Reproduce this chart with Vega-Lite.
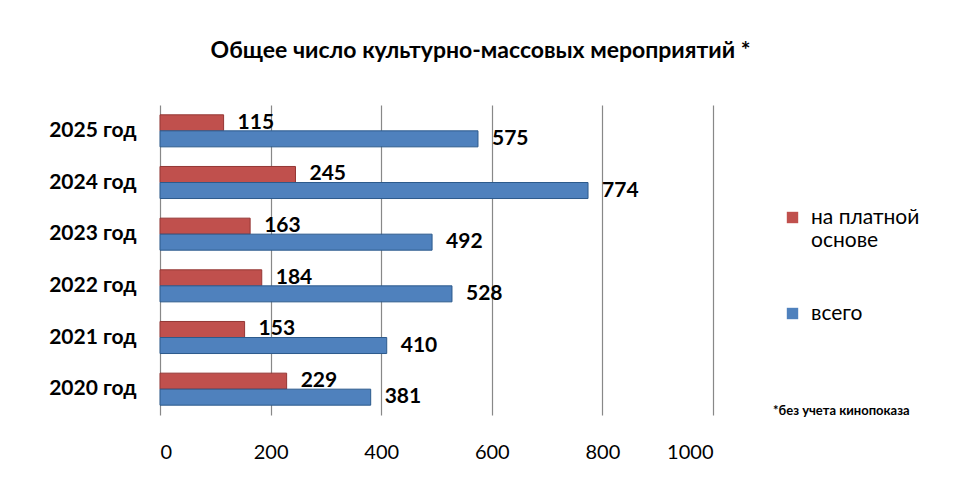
{
  "$schema": "https://vega.github.io/schema/vega-lite/v6.json",
  "autosize": "none",
  "width": 553,
  "height": 310,
  "padding": {"left": 160, "top": 105, "right": 247, "bottom": 65},
  "background": "white",
  "title": {
    "text": "Общее число культурно-массовых мероприятий *",
    "font": "Lato",
    "fontSize": 23,
    "fontWeight": "bold",
    "color": "black",
    "anchor": "middle",
    "dx": 44,
    "offset": 42
  },
  "data": {
    "values": [
      {"year": "2020 год", "series": "на платной основе", "value": 229},
      {"year": "2020 год", "series": "всего", "value": 381},
      {"year": "2021 год", "series": "на платной основе", "value": 153},
      {"year": "2021 год", "series": "всего", "value": 410},
      {"year": "2022 год", "series": "на платной основе", "value": 184},
      {"year": "2022 год", "series": "всего", "value": 528},
      {"year": "2023 год", "series": "на платной основе", "value": 163},
      {"year": "2023 год", "series": "всего", "value": 492},
      {"year": "2024 год", "series": "на платной основе", "value": 245},
      {"year": "2024 год", "series": "всего", "value": 774},
      {"year": "2025 год", "series": "на платной основе", "value": 115},
      {"year": "2025 год", "series": "всего", "value": 575}
    ]
  },
  "encoding": {
    "y": {
      "field": "year",
      "type": "nominal",
      "sort": ["2025 год", "2024 год", "2023 год", "2022 год", "2021 год", "2020 год"],
      "scale": {"paddingInner": 0.38, "paddingOuter": 0.19},
      "title": null,
      "axis": {
        "domain": false,
        "ticks": false,
        "labelFont": "Lato",
        "labelFontSize": 21,
        "labelFontWeight": "bold",
        "labelColor": "black",
        "labelPadding": 24
      }
    },
    "yOffset": {
      "field": "series",
      "type": "nominal",
      "sort": ["на платной основе", "всего"]
    },
    "x": {
      "field": "value",
      "type": "quantitative",
      "scale": {"domain": [0, 1000]},
      "title": null,
      "axis": {
        "values": [0, 200, 400, 600, 800, 1000],
        "format": "d",
        "domain": false,
        "ticks": false,
        "grid": true,
        "gridColor": "#888888",
        "gridWidth": 1.2,
        "labelFont": "Lato",
        "labelFontSize": 20,
        "labelColor": "black",
        "labelPadding": 27
      }
    }
  },
  "layer": [
    {
      "mark": {"type": "bar", "strokeWidth": 1},
      "encoding": {
        "color": {
          "field": "series",
          "type": "nominal",
          "scale": {"domain": ["на платной основе", "всего"], "range": ["#C0504D", "#4F81BD"]},
          "legend": {
            "title": null,
            "orient": "none",
            "legendX": 622,
            "legendY": 102,
            "symbolType": "square",
            "symbolSize": 130,
            "symbolStrokeWidth": 0,
            "labelFont": "Lato",
            "labelFontSize": 21,
            "labelColor": "black",
            "labelLimit": 220,
            "labelOffset": 8,
            "rowPadding": 51,
            "labelExpr": "datum.label == 'на платной основе' ? ['на платной', 'основе'] : datum.label"
          }
        },
        "stroke": {
          "field": "series",
          "type": "nominal",
          "scale": {"domain": ["на платной основе", "всего"], "range": ["#943634", "#2C5A8C"]},
          "legend": null
        }
      }
    },
    {
      "mark": {
        "type": "text",
        "align": "left",
        "baseline": "middle",
        "dx": 14,
        "font": "Lato",
        "fontSize": 21,
        "fontWeight": "bold",
        "color": "black"
      },
      "encoding": {
        "text": {"field": "value", "type": "quantitative"}
      }
    },
    {
      "data": {"values": [{"note": "*без учета кинопоказа", "year": "2020 год", "pos": 1000}]},
      "mark": {
        "type": "text",
        "align": "left",
        "baseline": "middle",
        "dx": 60,
        "dy": 22,
        "font": "Lato",
        "fontSize": 13,
        "fontWeight": "bold",
        "color": "black"
      },
      "encoding": {
        "x": {"field": "pos", "type": "quantitative"},
        "y": {"field": "year", "type": "nominal", "sort": ["2025 год", "2024 год", "2023 год", "2022 год", "2021 год", "2020 год"]},
        "yOffset": null,
        "text": {"field": "note", "type": "nominal"}
      }
    }
  ],
  "config": {
    "view": {"stroke": null}
  }
}
